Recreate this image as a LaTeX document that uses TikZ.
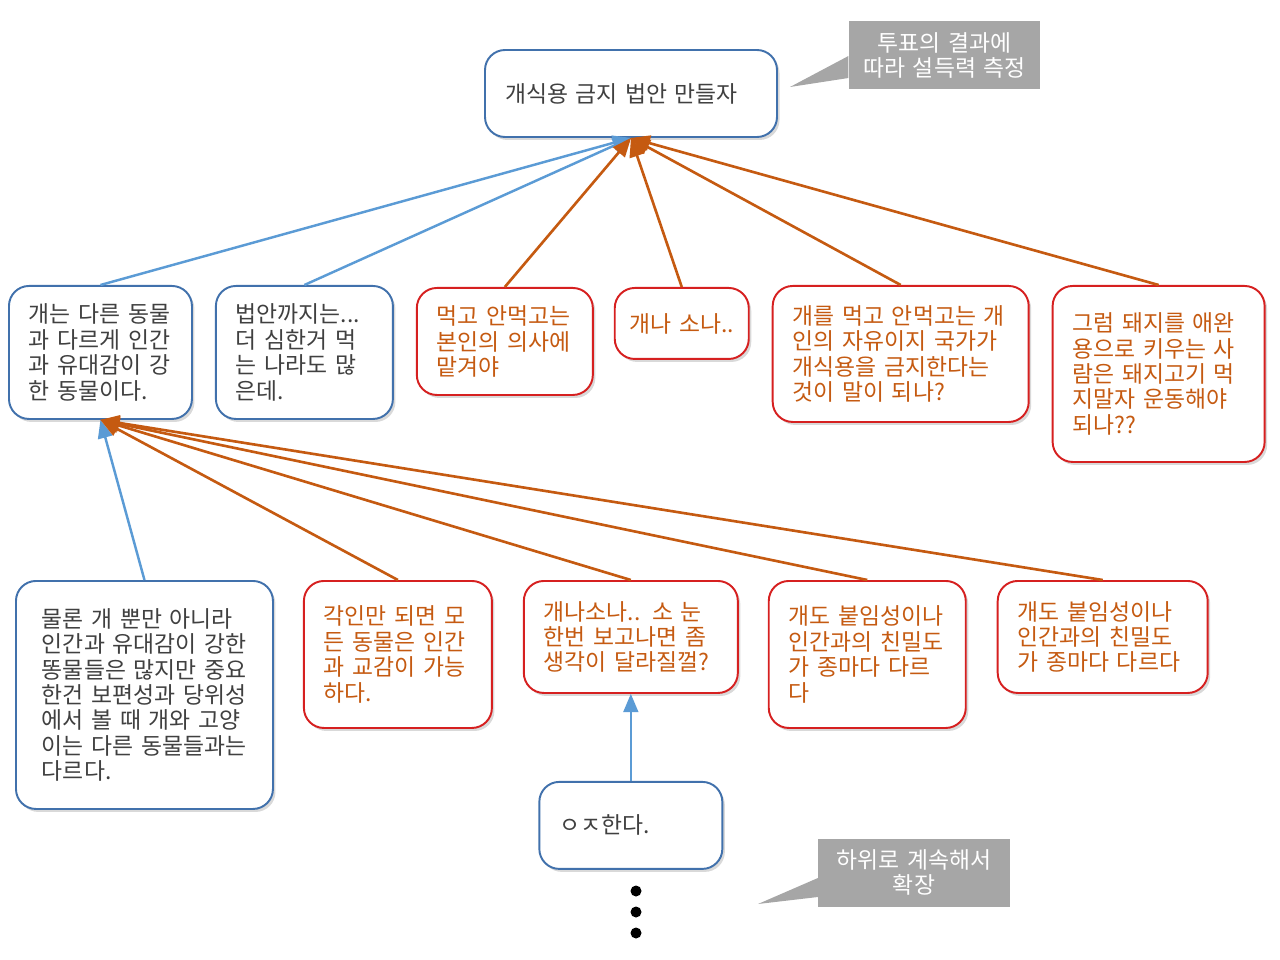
\documentclass[tikz,border=0pt]{standalone}
\usepackage{fontspec}
\setmainfont[WordSpace=1.5]{Noto Sans CJK KR}
\usepackage{tikz}
\usetikzlibrary{positioning,shapes,arrows,shadows}
\definecolor{boxblue}{RGB}{65,113,172}
\definecolor{lineblue}{RGB}{91,155,213}
\definecolor{boxred}{RGB}{214,32,32}
\definecolor{rust}{RGB}{197,90,17}
\definecolor{txtgray}{RGB}{64,64,64}
\definecolor{notegray}{RGB}{166,166,166}

\begin{document}
\begin{tikzpicture}
    \tikzstyle{bx} = [rectangle, rounded corners=0.4cm, fill=white, line width=1.1pt, inner xsep=0.4cm, inner ysep=0.1cm, align=left, font=\fontsize{13pt}{14.5pt}\selectfont, drop shadow={shadow xshift=0.05cm, shadow yshift=-0.06cm, opacity=0.3}]
    \tikzstyle{bb} = [bx, draw=boxblue, text=txtgray]
    \tikzstyle{rb} = [bx, draw=boxred, text=rust]
    \tikzstyle{note} = [rectangle, fill=notegray, text=white, align=center, minimum width=3.83cm, minimum height=1.36cm, font=\fontsize{13pt}{14.5pt}\selectfont]
    \tikzstyle{barrow} = [line width=1.4pt, draw=lineblue, ->, >=triangle 45]
    \tikzstyle{rarrow} = [line width=1.5pt, draw=rust, ->, >=triangle 45]
    \useasboundingbox (0,0) rectangle (25.6,-19.2);
        \node (top) [bb, text width=5.04cm, minimum height=1.74cm] at (12.62,-1.87) {개식용 금지 법안 만들자};
        \node (a1) [bb, anchor=north west, text width=2.86cm, minimum height=2.66cm] at (0.16,-5.7) {개는 다른 동물\\과 다르게 인간\\과 유대감이 강\\한 동물이다.};
        \node (a2) [bb, right=0.44cm of a1.north east, anchor=north west, text width=2.74cm, minimum height=2.66cm] {법안까지는...\\더 심한거 먹\\는 나라도 많\\은데.};
        \node (a3) [rb, below right=0.04cm and 0.44cm of a2.north east, anchor=north west, text width=2.72cm, minimum height=2.14cm] {먹고 안먹고는\\본인의 의사에\\맡겨야};
        \node (a4) [rb, right=0.4cm of a3.north east, anchor=north west, inner xsep=0.28cm, minimum width=2.68cm, minimum height=1.42cm] {개나 소나..};
        \node (a5) [rb, above right=0.04cm and 0.44cm of a4.north east, anchor=north west, text width=4.32cm, minimum height=2.72cm] {개를 먹고 안먹고는 개\\인의 자유이지 국가가\\개식용을 금지한다는\\것이 말이 되나?};
        \node (a6) [rb, right=0.44cm of a5.north east, anchor=north west, text width=3.44cm, minimum height=3.52cm] {그럼 돼지를 애완\\용으로 키우는 사\\람은 돼지고기 먹\\지말자 운동해야\\되나??};
        \node (b1) [bb, anchor=north west, inner xsep=0.52cm, text width=4.1cm, minimum height=4.56cm] at (0.3,-11.6) {물론 개 뿐만 아니라\\인간과 유대감이 강한\\똥물들은 많지만 중요\\한건 보편성과 당위성\\에서 볼 때 개와 고양\\이는 다른 동물들과는\\다르다.};
        \node (b2) [rb, right=0.58cm of b1.north east, anchor=north west, text width=2.96cm, minimum height=2.94cm] {각인만 되면 모\\든 동물은 인간\\과 교감이 가능\\하다.};
        \node (b3) [rb, right=0.6cm of b2.north east, anchor=north west, text width=3.48cm, minimum height=2.24cm] {개나소나.. 소 눈\\한번 보고나면 좀\\생각이 달라질껄?};
        \node (b4) [rb, right=0.58cm of b3.north east, anchor=north west, text width=3.14cm, minimum height=2.94cm] {개도 붙임성이나\\인간과의 친밀도\\가 종마다 다르\\다};
        \node (b5) [rb, right=0.6cm of b4.north east, anchor=north west, text width=3.4cm, minimum height=2.24cm] {개도 붙임성이나\\인간과의 친밀도\\가 종마다 다르다};
        \node (c1) [bb, below=1.74cm of b3.south, text width=2.86cm, minimum height=1.74cm] {ㅇㅈ한다.};
        \node (n1) [note] at (18.89,-1.11) {투표의 결과에\\따라 설득력 측정};
        \node (n2) [note] at (18.28,-17.45) {하위로 계속해서\\확장};
        \coordinate (t1) at (15.8,-1.74);
        \coordinate (t2) at (15.16,-18.08);
        \fill [notegray] (t1) -- ([yshift=-0.01cm]n1.west) -- ([yshift=-0.45cm]n1.west) -- cycle;
        \fill [notegray] (t2) -- ([yshift=-0.11cm]n2.west) -- ([yshift=-0.49cm]n2.west) -- cycle;
        \draw [barrow] (a1.north) -- (top.south);
        \draw [barrow] (a2.north) -- (top.south);
        \draw [rarrow] (a3.north) -- (top.south);
        \draw [rarrow] (a4.north) -- (top.south);
        \draw [rarrow] (a5.north) -- (top.south);
        \draw [rarrow] (a6.north) -- (top.south);
        \draw [barrow] (b1.north) -- (a1.south);
        \draw [rarrow] (b2.north) -- (a1.south);
        \draw [rarrow] (b3.north) -- (a1.south);
        \draw [rarrow] (b4.north) -- (a1.south);
        \draw [rarrow] (b5.north) -- (a1.south);
        \draw [barrow] (c1.north) -- (b3.south);
        \fill (12.72,-17.82) circle (0.11cm);
        \fill (12.72,-18.24) circle (0.11cm);
        \fill (12.72,-18.66) circle (0.11cm);
    \end{tikzpicture}
\end{document}
